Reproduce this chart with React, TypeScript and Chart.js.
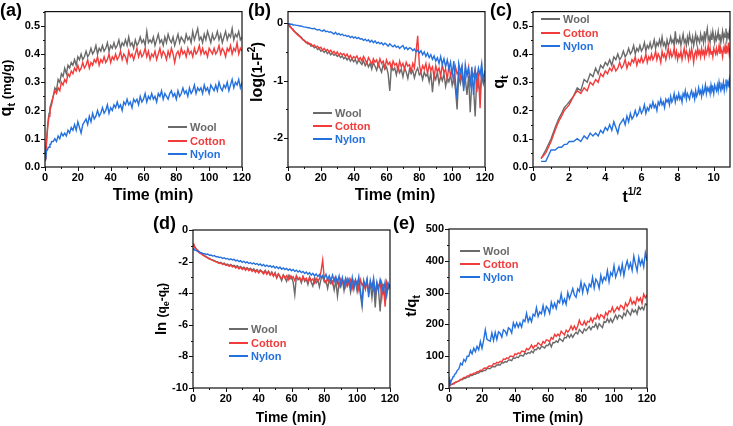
import React, { useEffect, useRef } from "react";
import { Chart, registerables } from "chart.js";
Chart.register(...registerables);

const W = 733;
const H = 426;
const FONT = '"Liberation Sans", Arial, Helvetica, sans-serif';
const Y_AXIS_W = 40;
const X_AXIS_H = 20;

const SERIES = ["Wool", "Cotton", "Nylon"];
const COLORS = ["#6a6a6a", "#f23b3b", "#2471de"];

// contact time (min)
const TIME = [
  0.2, 0.5, 1, 1.5, 2, 2.5, 3, 3.5, 4,
  5, 6, 7, 8, 9, 10, 11, 12, 13, 14,
  15, 16, 17, 18, 19, 20, 21, 22, 23, 24,
  25, 26, 27, 28, 29, 30, 31, 32, 33, 34,
  35, 36, 37, 38, 39, 40, 41, 42, 43, 44,
  45, 46, 47, 48, 49, 50, 51, 52, 53, 54,
  55, 56, 57, 58, 59, 60, 61, 62, 63, 64,
  65, 66, 67, 68, 69, 70, 71, 72, 73, 74,
  75, 76, 77, 78, 79, 80, 81, 82, 83, 84,
  85, 86, 87, 88, 89, 90, 91, 92, 93, 94,
  95, 96, 97, 98, 99, 100, 101, 102, 103, 104,
  105, 106, 107, 108, 109, 110, 111, 112, 113, 114,
  115, 116, 117, 118, 119, 120,
];

// q_t (mg/g)
const QT_WOOL = [
  0.03, 0.06, 0.10, 0.14, 0.17, 0.19, 0.21, 0.22, 0.23,
  0.25, 0.28, 0.27, 0.31, 0.30, 0.33, 0.32, 0.35, 0.33, 0.36,
  0.35, 0.37, 0.36, 0.38, 0.36, 0.39, 0.38, 0.40, 0.38, 0.39,
  0.41, 0.39, 0.40, 0.42, 0.40, 0.41, 0.43, 0.40, 0.42, 0.41,
  0.43, 0.41, 0.42, 0.44, 0.41, 0.43, 0.42, 0.44, 0.42, 0.43,
  0.45, 0.42, 0.44, 0.43, 0.45, 0.43, 0.46, 0.43, 0.44, 0.42,
  0.45, 0.43, 0.44, 0.46, 0.44, 0.45, 0.43, 0.48, 0.44, 0.45,
  0.44, 0.46, 0.43, 0.45, 0.47, 0.44, 0.45, 0.43, 0.46, 0.44,
  0.47, 0.45, 0.44, 0.46, 0.43, 0.45, 0.47, 0.44, 0.46, 0.45,
  0.44, 0.47, 0.45, 0.46, 0.44, 0.48, 0.45, 0.47, 0.49, 0.45,
  0.46, 0.44, 0.47, 0.45, 0.48, 0.46, 0.44, 0.47, 0.45, 0.46,
  0.48, 0.45, 0.47, 0.44, 0.46, 0.48, 0.45, 0.47, 0.46, 0.49,
  0.45, 0.47, 0.46, 0.48, 0.45, 0.46,
];
const QT_COTTON = [
  0.03, 0.05, 0.09, 0.13, 0.16, 0.18, 0.20, 0.21, 0.22,
  0.25, 0.27, 0.26, 0.28, 0.27, 0.30, 0.29, 0.31, 0.30, 0.33,
  0.32, 0.34, 0.33, 0.35, 0.34, 0.36, 0.34, 0.35, 0.37, 0.35,
  0.36, 0.38, 0.35, 0.37, 0.36, 0.38, 0.37, 0.39, 0.36, 0.38,
  0.37, 0.39, 0.37, 0.38, 0.40, 0.37, 0.39, 0.38, 0.40, 0.38,
  0.39, 0.41, 0.38, 0.40, 0.39, 0.37, 0.41, 0.39, 0.40, 0.38,
  0.40, 0.42, 0.39, 0.41, 0.39, 0.40, 0.42, 0.39, 0.41, 0.38,
  0.40, 0.39, 0.41, 0.38, 0.40, 0.42, 0.39, 0.41, 0.40, 0.38,
  0.41, 0.39, 0.42, 0.40, 0.37, 0.40, 0.41, 0.39, 0.42, 0.40,
  0.41, 0.39, 0.42, 0.40, 0.41, 0.39, 0.42, 0.40, 0.41, 0.43,
  0.40, 0.42, 0.40, 0.41, 0.39, 0.42, 0.41, 0.40, 0.42, 0.40,
  0.41, 0.43, 0.40, 0.42, 0.41, 0.39, 0.42, 0.41, 0.43, 0.40,
  0.42, 0.41, 0.44, 0.40, 0.42, 0.41,
];
const QT_NYLON = [
  0.02, 0.02, 0.06, 0.06, 0.07, 0.07, 0.08, 0.08, 0.09,
  0.09, 0.10, 0.09, 0.11, 0.10, 0.12, 0.11, 0.12, 0.11, 0.13,
  0.12, 0.14, 0.13, 0.15, 0.13, 0.16, 0.14, 0.12, 0.15, 0.16,
  0.17, 0.15, 0.18, 0.16, 0.19, 0.17, 0.18, 0.20, 0.18, 0.19,
  0.21, 0.19, 0.20, 0.22, 0.19, 0.21, 0.20, 0.22, 0.21, 0.23,
  0.21, 0.22, 0.20, 0.23, 0.22, 0.24, 0.22, 0.23, 0.21, 0.24,
  0.23, 0.24, 0.22, 0.25, 0.23, 0.24, 0.26, 0.23, 0.25, 0.24,
  0.26, 0.24, 0.25, 0.23, 0.26, 0.25, 0.27, 0.24, 0.26, 0.25,
  0.24, 0.26, 0.27, 0.25, 0.26, 0.24, 0.27, 0.25, 0.26, 0.28,
  0.26, 0.27, 0.25, 0.28, 0.26, 0.27, 0.29, 0.26, 0.28, 0.27,
  0.28, 0.26, 0.29, 0.27, 0.28, 0.26, 0.29, 0.28, 0.27, 0.29,
  0.27, 0.30, 0.28, 0.27, 0.29, 0.28, 0.30, 0.27, 0.29, 0.31,
  0.28, 0.30, 0.29, 0.31, 0.28, 0.30,
];

// log(1-F^2)
const LOGF_WOOL = [
  -0.01, -0.02, -0.04, -0.06, -0.08, -0.10, -0.11, -0.13, -0.14,
  -0.17, -0.19, -0.22, -0.24, -0.28, -0.30, -0.33, -0.36, -0.35, -0.40,
  -0.39, -0.43, -0.41, -0.46, -0.44, -0.49, -0.47, -0.51, -0.48, -0.53,
  -0.50, -0.55, -0.52, -0.56, -0.54, -0.58, -0.55, -0.60, -0.57, -0.62,
  -0.59, -0.64, -0.60, -0.66, -0.62, -0.67, -0.63, -0.70, -0.64, -0.68,
  -0.72, -0.65, -0.74, -0.68, -0.76, -0.70, -0.80, -0.69, -0.75, -0.82,
  -0.70, -0.78, -0.85, -0.72, -0.80, -0.76, -0.88, -1.18, -0.74, -0.82,
  -0.78, -0.90, -0.75, -0.86, -0.80, -0.93, -0.78, -0.85, -0.96, -0.80,
  -0.88, -0.82, -0.95, -0.84, -0.78, -0.90, -0.86, -0.98, -0.85, -0.92,
  -0.88, -1.02, -0.86, -1.20, -0.90, -0.98, -0.85, -1.05, -0.92, -1.00,
  -0.88, -1.10, -0.95, -1.02, -0.90, -1.08, -0.94, -1.15, -1.50, -0.92,
  -1.05, -0.90, -1.12, -0.96, -1.25, -0.92, -1.55, -1.00, -1.10, -1.62,
  -0.95, -1.08, -1.20, -0.92, -1.05, -0.98,
];
const LOGF_COTTON = [
  -0.01, -0.03, -0.05, -0.07, -0.09, -0.10, -0.12, -0.13, -0.15,
  -0.18, -0.21, -0.23, -0.26, -0.29, -0.31, -0.34, -0.33, -0.37, -0.36,
  -0.40, -0.38, -0.42, -0.40, -0.44, -0.42, -0.47, -0.44, -0.48, -0.46,
  -0.50, -0.47, -0.52, -0.49, -0.54, -0.50, -0.56, -0.52, -0.55, -0.53,
  -0.58, -0.54, -0.60, -0.56, -0.62, -0.58, -0.61, -0.57, -0.64, -0.60,
  -0.66, -0.58, -0.63, -0.70, -0.60, -0.65, -0.72, -0.62, -0.68, -0.64,
  -0.74, -0.62, -0.70, -0.66, -0.78, -0.64, -0.72, -0.68, -0.80, -0.66,
  -0.73, -0.70, -0.82, -0.66, -0.76, -0.70, -0.80, -0.68, -0.75, -0.72,
  -0.84, -0.70, -0.78, -0.50, -0.22, -0.72, -0.86, -0.74, -0.80, -0.70,
  -0.88, -0.72, -0.82, -0.76, -0.94, -0.74, -0.85, -0.78, -0.92, -0.72,
  -0.86, -0.80, -0.98, -0.74, -0.90, -0.82, -1.00, -0.76, -0.88, -0.84,
  -0.95, -0.78, -1.05, -0.82, -0.90, -0.76, -1.10, -0.84, -0.92, -0.80,
  -1.20, -0.86, -1.48, -0.82, -0.95, -0.88,
];
const LOGF_NYLON = [
  0.00, -0.01, -0.01, -0.02, -0.02, -0.02, -0.03, -0.03, -0.03,
  -0.04, -0.04, -0.05, -0.05, -0.06, -0.07, -0.07, -0.08, -0.08, -0.09,
  -0.10, -0.09, -0.11, -0.12, -0.11, -0.13, -0.14, -0.12, -0.15, -0.14,
  -0.16, -0.15, -0.17, -0.19, -0.16, -0.20, -0.18, -0.21, -0.19, -0.22,
  -0.21, -0.23, -0.22, -0.25, -0.23, -0.26, -0.24, -0.27, -0.25, -0.28,
  -0.27, -0.30, -0.28, -0.31, -0.29, -0.33, -0.30, -0.34, -0.31, -0.35,
  -0.33, -0.36, -0.34, -0.38, -0.35, -0.37, -0.40, -0.36, -0.39, -0.41,
  -0.38, -0.42, -0.40, -0.44, -0.41, -0.39, -0.45, -0.42, -0.46, -0.43,
  -0.44, -0.48, -0.45, -0.50, -0.47, -0.52, -0.48, -0.55, -0.50, -0.58,
  -0.52, -0.60, -0.55, -0.63, -0.57, -0.66, -0.60, -0.70, -0.58, -0.72,
  -0.62, -0.76, -0.64, -0.80, -0.68, -0.90, -0.66, -1.02, -1.32, -0.70,
  -0.85, -0.74, -1.18, -0.72, -0.92, -0.80, -1.05, -0.76, -1.25, -0.82,
  -0.95, -0.78, -0.90, -0.70, -1.02, -0.82,
];

// ln(q_e - q_t)
const LNQ_WOOL = [
  -0.90, -0.95, -1.05, -1.12, -1.20, -1.25, -1.30, -1.35, -1.40,
  -1.48, -1.55, -1.62, -1.68, -1.75, -1.80, -1.86, -1.90, -1.94, -1.99,
  -2.02, -2.08, -2.05, -2.15, -2.10, -2.20, -2.16, -2.25, -2.18, -2.28,
  -2.24, -2.32, -2.26, -2.38, -2.30, -2.42, -2.35, -2.45, -2.38, -2.50,
  -2.42, -2.55, -2.45, -2.60, -2.50, -2.66, -2.52, -2.62, -2.70, -2.55,
  -2.75, -2.60, -2.82, -2.66, -2.90, -2.70, -3.05, -2.78, -2.95, -3.20,
  -2.85, -3.00, -3.25, -2.88, -3.10, -2.95, -3.30, -4.10, -2.90, -3.15,
  -3.05, -3.35, -2.95, -3.25, -3.10, -3.45, -3.00, -3.30, -3.55, -3.05,
  -3.35, -3.15, -3.60, -3.10, -2.95, -3.30, -3.20, -3.70, -3.15, -3.40,
  -3.25, -3.80, -3.20, -4.20, -3.35, -3.60, -3.15, -3.85, -3.30, -3.55,
  -3.20, -3.95, -3.40, -3.65, -3.25, -3.90, -3.35, -4.10, -4.85, -3.30,
  -3.70, -3.20, -3.95, -3.40, -4.30, -3.30, -4.90, -3.50, -3.80, -5.15,
  -3.35, -3.75, -4.20, -3.30, -3.70, -3.45,
];
const LNQ_COTTON = [
  -0.85, -0.95, -1.05, -1.15, -1.22, -1.28, -1.35, -1.40, -1.45,
  -1.52, -1.60, -1.66, -1.72, -1.78, -1.84, -1.88, -1.93, -1.98, -2.02,
  -2.06, -2.12, -2.08, -2.18, -2.14, -2.24, -2.20, -2.30, -2.22, -2.34,
  -2.28, -2.40, -2.32, -2.46, -2.36, -2.50, -2.40, -2.55, -2.42, -2.58,
  -2.48, -2.62, -2.52, -2.68, -2.55, -2.72, -2.58, -2.66, -2.78, -2.60,
  -2.80, -2.64, -2.85, -2.70, -2.92, -2.74, -3.00, -2.78, -2.95, -3.10,
  -2.85, -3.05, -2.90, -3.15, -2.88, -3.08, -2.95, -3.20, -2.92, -3.10,
  -3.00, -3.25, -2.95, -3.15, -3.05, -3.30, -2.98, -3.20, -3.10, -3.35,
  -3.05, -3.25, -3.10, -2.60, -1.90, -3.15, -3.35, -3.05, -3.30, -3.10,
  -3.40, -3.05, -3.30, -3.15, -3.55, -3.10, -3.35, -3.20, -3.60, -3.10,
  -3.45, -3.15, -3.70, -3.20, -3.40, -3.25, -3.80, -3.15, -3.50, -3.30,
  -3.75, -3.20, -3.95, -3.30, -3.55, -3.20, -4.05, -3.35, -3.60, -3.25,
  -4.30, -3.40, -4.85, -3.30, -3.60, -3.45,
];
const LNQ_NYLON = [
  -1.15, -1.20, -1.25, -1.28, -1.30, -1.33, -1.35, -1.37, -1.40,
  -1.44, -1.48, -1.50, -1.55, -1.52, -1.60, -1.58, -1.65, -1.62, -1.70,
  -1.68, -1.74, -1.72, -1.80, -1.76, -1.84, -1.80, -1.88, -1.83, -1.90,
  -1.86, -1.95, -1.90, -2.00, -1.94, -2.05, -1.98, -2.08, -2.02, -2.12,
  -2.06, -2.15, -2.08, -2.18, -2.12, -2.22, -2.15, -2.26, -2.18, -2.30,
  -2.22, -2.32, -2.25, -2.36, -2.28, -2.40, -2.32, -2.44, -2.35, -2.48,
  -2.40, -2.50, -2.43, -2.55, -2.46, -2.58, -2.50, -2.62, -2.54, -2.66,
  -2.58, -2.70, -2.62, -2.75, -2.66, -2.80, -2.70, -2.85, -2.74, -2.90,
  -2.78, -2.95, -2.82, -3.00, -2.86, -3.05, -2.80, -3.15, -2.90, -3.20,
  -2.85, -3.25, -2.95, -3.35, -2.90, -3.45, -3.00, -3.55, -3.05, -3.40,
  -3.10, -3.65, -3.00, -3.75, -3.15, -3.50, -2.95, -3.85, -4.60, -3.20,
  -3.60, -3.10, -4.25, -3.20, -3.70, -3.05, -4.10, -3.30, -3.85, -3.15,
  -3.55, -3.95, -3.30, -4.15, -3.40, -3.70,
];

// tick labels
const TIME_TICKS = [0, 20, 40, 60, 80, 100, 120];
const SQRT_TICKS = [0, 2, 4, 6, 8, 10];
const QT_TICKS = [0, 0.1, 0.2, 0.3, 0.4, 0.5];
const LOGF_TICKS = [-2, -1, 0];
const LNQ_TICKS = [-10, -8, -6, -4, -2, 0];
const TQ_TICKS = [0, 100, 200, 300, 400, 500];

type Run = { t: string; s: number; dy?: number };
type Pt = { x: number; y: number };
interface AxisSpec { min: number; max: number; ticks: number[]; minor: number; fmt: (v: number) => string }
interface PanelSpec {
  area: [number, number, number, number];
  x: AxisSpec;
  y: AxisSpec;
  lines: Pt[][];
  legend: { x0: number; x1: number; tx: number; ys: number[] };
  tag: { text: string; x: number; y: number };
  xTitle: { runs: Run[]; x: number; y: number };
  yTitle: { runs: Run[]; x: number; y: number };
}

const pairs = (xs: number[], ys: number[]): Pt[] => xs.map((x, i) => ({ x, y: ys[i] }));
const QT = [QT_WOOL, QT_COTTON, QT_NYLON];

const fmt1 = (v: number) => v.toFixed(1);
const fmt0 = (v: number) => String(Math.round(v));

const timeAxis: AxisSpec = { min: 0, max: 120, ticks: TIME_TICKS, minor: 10, fmt: fmt0 };

const PANELS: PanelSpec[] = [
  {
    area: [45, 8, 242, 167],
    x: timeAxis,
    y: { min: 0, max: 0.55, ticks: QT_TICKS, minor: 0.05, fmt: fmt1 },
    lines: QT.map((q) => pairs(TIME, q)),
    legend: { x0: 168, x1: 187, tx: 190, ys: [127, 141, 154] },
    tag: { text: "(a)", x: 0, y: 11 },
    xTitle: { runs: [{ t: "Time (min)", s: 16 }], x: 153, y: 194 },
    yTitle: { runs: [{ t: "q", s: 16 }, { t: "t", s: 11, dy: 4 }, { t: " (mg/g)", s: 13 }], x: 7, y: 88 },
  },
  {
    area: [288, 8, 485, 167],
    x: timeAxis,
    y: { min: -2.5, max: 0.2, ticks: LOGF_TICKS, minor: 0.5, fmt: fmt0 },
    lines: [LOGF_WOOL, LOGF_COTTON, LOGF_NYLON].map((v) => pairs(TIME, v)),
    legend: { x0: 313, x1: 332, tx: 335, ys: [113, 126, 139] },
    tag: { text: "(b)", x: 248, y: 11 },
    xTitle: { runs: [{ t: "Time (min)", s: 16 }], x: 395, y: 194 },
    yTitle: { runs: [{ t: "log", s: 16 }, { t: "(1-F", s: 14 }, { t: "2", s: 10, dy: -7 }, { t: ")", s: 14 }], x: 258, y: 72 },
  },
  {
    area: [533, 8, 730, 167],
    x: { min: 0, max: 10.9, ticks: SQRT_TICKS, minor: 1, fmt: fmt0 },
    y: { min: 0, max: 0.55, ticks: QT_TICKS, minor: 0.05, fmt: fmt1 },
    lines: QT.map((q) => pairs(TIME.map((t) => Math.sqrt(t)), q)),
    legend: { x0: 541, x1: 560, tx: 563, ys: [19, 33, 46] },
    tag: { text: "(c)", x: 490, y: 11 },
    xTitle: { runs: [{ t: "t", s: 16 }, { t: "1/2", s: 10, dy: -7 }], x: 632, y: 196 },
    yTitle: { runs: [{ t: "q", s: 16 }, { t: "t", s: 11, dy: 4 }], x: 500, y: 82 },
  },
  {
    area: [193, 230, 390, 388],
    x: timeAxis,
    y: { min: -10, max: 0, ticks: LNQ_TICKS, minor: 1, fmt: fmt0 },
    lines: [LNQ_WOOL, LNQ_COTTON, LNQ_NYLON].map((v) => pairs(TIME, v)),
    legend: { x0: 229, x1: 248, tx: 251, ys: [329, 343, 356] },
    tag: { text: "(d)", x: 153, y: 224 },
    xTitle: { runs: [{ t: "Time (min)", s: 14 }], x: 291, y: 417 },
    yTitle: {
      runs: [{ t: "ln ", s: 15 }, { t: "(q", s: 12 }, { t: "e", s: 9, dy: 3 }, { t: "-q", s: 12 }, { t: "t", s: 9, dy: 3 }, { t: ")", s: 12 }],
      x: 162, y: 309,
    },
  },
  {
    area: [449, 229, 647, 388],
    x: timeAxis,
    y: { min: 0, max: 500, ticks: TQ_TICKS, minor: 50, fmt: fmt0 },
    lines: QT.map((q) => TIME.map((t, i) => ({ x: t, y: t / q[i] }))),
    legend: { x0: 460, x1: 480, tx: 483, ys: [251, 264, 277] },
    tag: { text: "(e)", x: 393, y: 224 },
    xTitle: { runs: [{ t: "Time (min)", s: 14 }], x: 548, y: 417 },
    yTitle: { runs: [{ t: "t/q", s: 15 }, { t: "t", s: 10, dy: 4 }], x: 412, y: 306 },
  },
];

function drawRuns(ctx: CanvasRenderingContext2D, runs: Run[], cx: number, cy: number, rotate: boolean) {
  ctx.save();
  ctx.translate(cx, cy);
  if (rotate) ctx.rotate(-Math.PI / 2);
  let w = 0;
  const widths: number[] = [];
  for (const r of runs) {
    ctx.font = `bold ${r.s}px ${FONT}`;
    const m = ctx.measureText(r.t).width;
    widths.push(m);
    w += m;
  }
  const main = Math.max(...runs.map((r) => r.s));
  const base = main * (rotate ? 0.26 : 0.36);
  ctx.textAlign = "left";
  ctx.textBaseline = "alphabetic";
  ctx.fillStyle = "#000";
  let x = -w / 2;
  runs.forEach((r, i) => {
    ctx.font = `bold ${r.s}px ${FONT}`;
    ctx.fillText(r.t, x, base + (r.dy || 0));
    x += widths[i];
  });
  ctx.restore();
}

function makeDecor(p: PanelSpec, idx: number) {
  return {
    id: "decor" + idx,
    afterDraw(chart: any) {
      const ctx: CanvasRenderingContext2D = chart.ctx;
      const { left, top, right, bottom } = chart.chartArea;
      const xs = chart.scales.x;
      const ys = chart.scales.y;
      ctx.save();
      ctx.strokeStyle = "#111";
      ctx.lineWidth = 1.2;
      ctx.strokeRect(left, top, right - left, bottom - top);
      ctx.lineWidth = 1;
      const isMajor = (ax: AxisSpec, v: number) => ax.ticks.some((t) => Math.abs(t - v) < 1e-6);
      for (let k = Math.ceil(p.x.min / p.x.minor - 1e-9); k * p.x.minor <= p.x.max + 1e-9; k++) {
        const v = k * p.x.minor;
        const px = Math.round(xs.getPixelForValue(v)) + 0.5;
        ctx.beginPath();
        ctx.moveTo(px, bottom);
        ctx.lineTo(px, bottom + (isMajor(p.x, v) ? 4 : 2));
        ctx.stroke();
      }
      for (let k = Math.ceil(p.y.min / p.y.minor - 1e-9); k * p.y.minor <= p.y.max + 1e-9; k++) {
        const v = k * p.y.minor;
        const py = Math.round(ys.getPixelForValue(v)) + 0.5;
        ctx.beginPath();
        ctx.moveTo(left, py);
        ctx.lineTo(left - (isMajor(p.y, v) ? 4 : 2), py);
        ctx.stroke();
      }
      // legend
      p.legend.ys.forEach((y, i) => {
        ctx.strokeStyle = COLORS[i];
        ctx.lineWidth = 2;
        ctx.beginPath();
        ctx.moveTo(p.legend.x0, y);
        ctx.lineTo(p.legend.x1, y);
        ctx.stroke();
        ctx.fillStyle = COLORS[i];
        ctx.font = `bold 11px ${FONT}`;
        ctx.textAlign = "left";
        ctx.textBaseline = "middle";
        ctx.fillText(SERIES[i], p.legend.tx, y + 0.5);
      });
      // titles
      drawRuns(ctx, p.xTitle.runs, p.xTitle.x, p.xTitle.y, false);
      drawRuns(ctx, p.yTitle.runs, p.yTitle.x, p.yTitle.y, true);
      // panel tag
      ctx.fillStyle = "#000";
      ctx.font = `bold 18px ${FONT}`;
      ctx.textAlign = "left";
      ctx.textBaseline = "middle";
      ctx.fillText(p.tag.text, p.tag.x, p.tag.y);
      ctx.restore();
    },
  };
}

function makeConfig(p: PanelSpec, idx: number): any {
  const [l, t, r, b] = p.area;
  const tickFont = { family: FONT, size: 11, weight: "bold" as const };
  return {
    type: "line",
    data: {
      datasets: p.lines.map((pts, i) => ({
        label: SERIES[i],
        data: pts,
        borderColor: COLORS[i],
        backgroundColor: COLORS[i],
        borderWidth: 1.4,
        pointRadius: 0,
        tension: 0,
        fill: false,
        order: 2 - i,
      })),
    },
    options: {
      responsive: false,
      animation: false,
      devicePixelRatio: 1,
      events: [],
      layout: { padding: { left: l - Y_AXIS_W, top: t, right: W - r, bottom: H - b - X_AXIS_H } },
      plugins: { legend: { display: false }, tooltip: { enabled: false } },
      scales: {
        x: {
          type: "linear",
          position: "bottom",
          min: p.x.min,
          max: p.x.max,
          grid: { display: false, drawTicks: false },
          border: { display: false },
          afterFit: (s: any) => { s.height = X_AXIS_H; },
          afterBuildTicks: (s: any) => { s.ticks = p.x.ticks.map((v) => ({ value: v })); },
          ticks: { padding: 4, color: "#000", font: tickFont, maxRotation: 0, autoSkip: false, callback: (v: any) => p.x.fmt(Number(v)) },
        },
        y: {
          type: "linear",
          position: "left",
          min: p.y.min,
          max: p.y.max,
          grid: { display: false, drawTicks: false },
          border: { display: false },
          afterFit: (s: any) => { s.width = Y_AXIS_W; },
          afterBuildTicks: (s: any) => { s.ticks = p.y.ticks.map((v) => ({ value: v })); },
          ticks: { padding: 5, color: "#000", font: tickFont, autoSkip: false, callback: (v: any) => p.y.fmt(Number(v)) },
        },
      },
    },
    plugins: [makeDecor(p, idx)],
  };
}

function Panel({ spec, idx }: { spec: PanelSpec; idx: number }) {
  const ref = useRef<HTMLCanvasElement>(null);
  useEffect(() => {
    const chart = new Chart(ref.current as HTMLCanvasElement, makeConfig(spec, idx));
    return () => chart.destroy();
  }, [spec, idx]);
  return (
    <canvas
      ref={ref}
      width={W}
      height={H}
      style={{ position: "absolute", left: 0, top: 0, width: W, height: H }}
    />
  );
}

export default function App() {
  return (
    <div style={{ position: "fixed", left: 0, top: 0, width: W, height: H, background: "#fff", overflow: "hidden" }}>
      {PANELS.map((p, i) => (
        <Panel key={i} spec={p} idx={i} />
      ))}
    </div>
  );
}
